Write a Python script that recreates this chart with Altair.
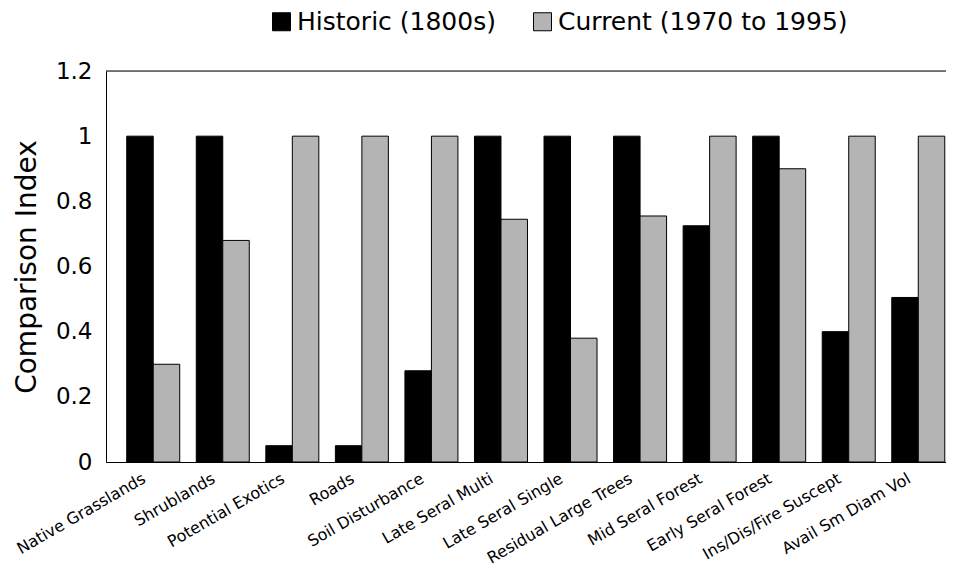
import altair as alt
import pandas as pd

categories = [
    "Native Grasslands", "Shrublands", "Potential Exotics", "Roads",
    "Soil Disturbance", "Late Seral Multi", "Late Seral Single",
    "Residual Large Trees", "Mid Seral Forest", "Early Seral Forest",
    "Ins/Dis/Fire Suscept", "Avail Sm Diam Vol",
]
historic = [1, 1, 0.05, 0.05, 0.28, 1, 1, 1, 0.725, 1, 0.40, 0.505]
current = [0.30, 0.68, 1, 1, 1, 0.745, 0.38, 0.755, 1, 0.90, 1, 1]
series_names = ["Historic (1800s)", "Current (1970 to 1995)"]
y_ticks = [0, 0.2, 0.4, 0.6, 0.8, 1, 1.2]

rows = []
for c, h, v in zip(categories, historic, current):
    rows.append({"category": c, "series": series_names[0], "value": h})
    rows.append({"category": c, "series": series_names[1], "value": v})
df = pd.DataFrame(rows)

FONT = "DejaVu Sans"
W = 840
H = 391

bars = alt.Chart(df).mark_bar(stroke="black", strokeWidth=1).encode(
    x=alt.X(
        "category:N", sort=categories,
        scale=alt.Scale(paddingInner=0.238, paddingOuter=0.298, range=[0, 859.5]),
        axis=alt.Axis(
            title=None, labelAngle=-30, labelFontSize=16, labelFont=FONT,
            labelColor="black", ticks=False, domainColor="black",
            labelPadding=8, labelOffset=-13, labelLimit=300,
        ),
    ),
    xOffset=alt.XOffset(
        "series:N", sort=series_names,
        scale=alt.Scale(domain=series_names, paddingInner=0, paddingOuter=0),
    ),
    y=alt.Y(
        "value:Q",
        scale=alt.Scale(domain=[0, 1.2], nice=False),
        axis=alt.Axis(
            values=y_ticks, format="~g", title="Comparison Index",
            titleFontSize=28, titleFontWeight="normal", titleFont=FONT,
            titleColor="black", titlePadding=14,
            labelFontSize=23, labelFont=FONT, labelColor="black",
            ticks=False, labelPadding=14, domainColor="black", grid=False,
        ),
    ),
    fill=alt.Fill(
        "series:N", sort=series_names,
        scale=alt.Scale(domain=series_names, range=["black", "#b4b4b4"]),
        legend=alt.Legend(
            orient="none", legendX=163, legendY=-62, direction="horizontal",
            title=None, symbolType="square", symbolSize=324,
            symbolStrokeColor="black", symbolStrokeWidth=1,
            labelFontSize=25, labelFont=FONT, labelColor="black",
            labelOffset=3, columnPadding=34, padding=0, labelLimit=400,
        ),
    ),
)

top_line = alt.Chart(pd.DataFrame({"k": [0]})).mark_rule(
    color="black", strokeWidth=1
).encode(
    x=alt.value(0), x2=alt.value(W), y=alt.value(0),
)

chart = alt.layer(bars, top_line).properties(
    width=W, height=H,
    autosize=alt.AutoSizeParams(type="none"),
    padding={"left": 98, "top": 63, "right": 0, "bottom": 112},
).configure_view(
    stroke=None,
).configure(font=FONT)

chart.save("out.html", embed_options={"renderer": "svg", "actions": False})
